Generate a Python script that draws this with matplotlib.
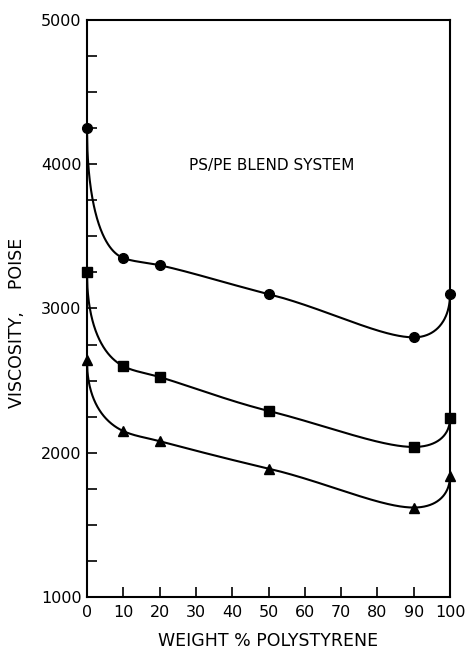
import matplotlib
matplotlib.use("Agg")
import matplotlib.pyplot as plt
import numpy as np

# weight % polystyrene in the PS/PE blend
ps_content = [0, 10, 20, 50, 90, 100]
# viscosity (poise), three series
visc_circle = [4250, 3350, 3300, 3100, 2800, 3100]
visc_square = [3250, 2600, 2525, 2290, 2040, 2240]
visc_triangle = [2640, 2150, 2080, 1890, 1620, 1840]

x_ticks = [0, 10, 20, 30, 40, 50, 60, 70, 80, 90, 100]
y_ticks = [1000, 2000, 3000, 4000, 5000]


def pchip(xk, yk, xs):
    # Fritsch-Carlson monotone cubic through the points
    xk = np.asarray(xk, float)
    yk = np.asarray(yk, float)
    h = np.diff(xk)
    d = np.diff(yk) / h
    m = np.zeros_like(yk)
    for i in range(1, len(xk) - 1):
        if d[i - 1] * d[i] > 0:
            w1 = 2 * h[i] + h[i - 1]
            w2 = h[i] + 2 * h[i - 1]
            m[i] = (w1 + w2) / (w1 / d[i - 1] + w2 / d[i])
    m[0] = ((2 * h[0] + h[1]) * d[0] - h[0] * d[1]) / (h[0] + h[1])
    m[-1] = ((2 * h[-1] + h[-2]) * d[-1] - h[-1] * d[-2]) / (h[-1] + h[-2])
    idx = np.clip(np.searchsorted(xk, xs) - 1, 0, len(h) - 1)
    t = (xs - xk[idx]) / h[idx]
    h00 = 2 * t**3 - 3 * t**2 + 1
    h10 = t**3 - 2 * t**2 + t
    h01 = -2 * t**3 + 3 * t**2
    h11 = t**3 - t**2
    return (h00 * yk[idx] + h10 * h[idx] * m[idx]
            + h01 * yk[idx + 1] + h11 * h[idx] * m[idx + 1])


def smooth(xv, yv):
    # warp x so the curve leaves both ends with a vertical tangent
    warp = lambda v: np.arcsin(np.clip(2 * np.asarray(v, float) / 100 - 1, -1, 1))
    xs = np.linspace(0, 100, 800)
    return xs, pchip(warp(xv), yv, warp(xs))


fig = plt.figure(figsize=(4.69, 6.52), dpi=100)
ax = fig.add_axes([0.1855, 0.0844, 0.774, 0.8849])

for vals, mk, ms in [(visc_circle, 'o', 7), (visc_square, 's', 6.5), (visc_triangle, '^', 7)]:
    xs, ys = smooth(ps_content, vals)
    ax.plot(xs, ys, color='black', lw=1.5, clip_on=False)
    ax.plot(ps_content, vals, ls='none', marker=mk, ms=ms, color='black', clip_on=False, zorder=5)

ax.set_xlim(0, 100)
ax.set_ylim(1000, 5000)
ax.set_xticks(x_ticks)
ax.set_yticks(y_ticks)
ax.set_yticks(np.arange(1000, 5001, 250), minor=True)
ax.tick_params(axis='both', direction='in', length=7, width=1.2, labelsize=11.5, pad=4)
ax.tick_params(axis='y', which='minor', direction='in', length=7, width=1.2)
ax.tick_params(axis='x', pad=6)
for s in ax.spines.values():
    s.set_linewidth(1.5)

ax.set_xlabel('WEIGHT % POLYSTYRENE', fontsize=12.5)
ax.xaxis.set_label_coords(0.5, -0.06)
ax.set_ylabel('VISCOSITY,    POISE', fontsize=12.5)
ax.yaxis.set_label_coords(-0.168, 0.475)
ax.text(28, 3990, 'PS/PE BLEND SYSTEM', fontsize=11, va='center', ha='left')

fig.savefig('out.png', dpi=100)
